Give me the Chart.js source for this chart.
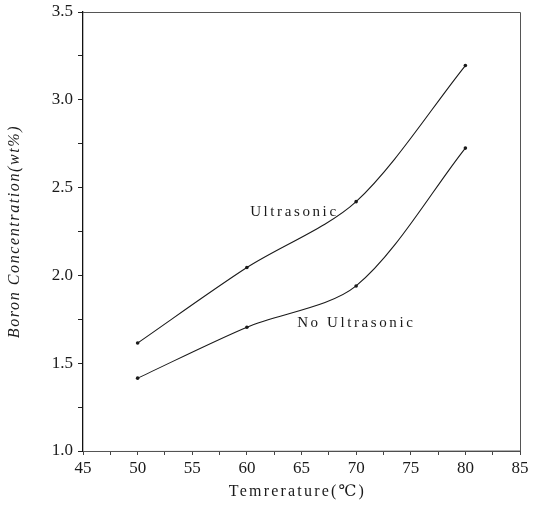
<!DOCTYPE html>
<html>
<head>
<meta charset="utf-8">
<script src="https://cdn.jsdelivr.net/npm/chart.js@4/dist/chart.umd.min.js"></script>
<style>
  html, body { margin: 0; padding: 0; background: #fff; }
  #boron { display: block; }
</style>
</head>
<body>
<canvas id="boron" width="535" height="517"></canvas>
<script>
// temperature (°C) vs boron concentration (wt%)
var temperatures = [50, 60, 70, 80];
var withUltrasonic = [1.615, 2.045, 2.42, 3.195];
var noUltrasonic = [1.415, 1.705, 1.94, 2.725];

var seriesLabels = ['Ultrasonic', 'No Ultrasonic'];
// where each curve name sits, in data units
var labelSpots = [{x: 60.3, y: 2.36}, {x: 64.6, y: 1.73}];

var X_MIN = 45, X_MAX = 85;
var Y_MIN = 1.0, Y_MAX = 3.5;

var SERIF = '"Liberation Serif", "DejaVu Serif", serif';
var INK = '#1a1a1a';

function toPoints(values) {
    return values.map(function (v, i) {
        return {x: temperatures[i], y: v};
    });
}

function makeDataset(values) {
    return {
        data: toPoints(values),
        borderColor: INK,
        backgroundColor: INK,
        borderWidth: 1.1,
        pointRadius: 1.8,
        pointBorderWidth: 0,
        tension: 0.3,
        fill: false
    };
}

// frame around the plot plus the curve names
var framePlugin = {
    id: 'frame',
    afterDraw: function (chart) {
        var ctx = chart.ctx;
        var a = chart.chartArea;
        ctx.save();
        ctx.strokeStyle = '#555';
        ctx.lineWidth = 1;
        ctx.beginPath();
        ctx.moveTo(a.left, a.top + 0.5);
        ctx.lineTo(a.right + 0.5, a.top + 0.5);
        ctx.lineTo(a.right + 0.5, a.bottom);
        ctx.lineTo(a.left, a.bottom + 0.5);
        ctx.stroke();

        var xs = chart.scales.x, ys = chart.scales.y;
        ctx.fillStyle = INK;
        ctx.font = '15px ' + SERIF;
        ctx.letterSpacing = '2.6px';
        ctx.textBaseline = 'middle';
        ctx.textAlign = 'left';
        seriesLabels.forEach(function (name, i) {
            ctx.fillText(name, xs.getPixelForValue(labelSpots[i].x), ys.getPixelForValue(labelSpots[i].y));
        });

        // axis titles with the same wide spacing
        ctx.font = '16px ' + SERIF;
        ctx.letterSpacing = '2.2px';
        ctx.textAlign = 'center';
        ctx.fillText('Temrerature(\u2103)', (a.left + a.right) / 2 - 4, 492);

        ctx.translate(15, (a.top + a.bottom) / 2);
        ctx.rotate(-Math.PI / 2);
        ctx.font = 'italic 16px ' + SERIF;
        ctx.letterSpacing = '1.6px';
        ctx.fillText('Boron Concentration(wt%)', 0, 0);
        ctx.restore();
    }
};

new Chart(document.getElementById('boron'), {
    type: 'line',
    data: {
        datasets: [makeDataset(withUltrasonic), makeDataset(noUltrasonic)]
    },
    options: {
        responsive: false,
        animation: false,
        layout: {padding: {left: 0, right: 15, top: 12, bottom: 0}},
        plugins: {
            legend: {display: false},
            tooltip: {enabled: false}
        },
        scales: {
            x: {
                type: 'linear',
                min: X_MIN,
                max: X_MAX,
                afterFit: function (scale) {
                    scale.height = 66;
                    scale.paddingLeft = 0;
                    scale.paddingRight = 0;
                },
                ticks: {
                    stepSize: 2.5,
                    autoSkip: false,
                    maxRotation: 0,
                    padding: 3,
                    color: INK,
                    font: {family: SERIF, size: 17},
                    callback: function (v) { return v % 5 === 0 ? v : ''; }
                },
                grid: {drawOnChartArea: false, drawTicks: true, tickLength: 4, color: '#444'},
                border: {color: '#444', width: 1}
            },
            y: {
                min: Y_MIN,
                max: Y_MAX,
                afterFit: function (scale) {
                    scale.width = 83;
                    scale.paddingTop = 0;
                    scale.paddingBottom = 0;
                },
                ticks: {
                    stepSize: 0.25,
                    autoSkip: false,
                    padding: 5,
                    color: INK,
                    font: {family: SERIF, size: 17},
                    callback: function (v) {
                        return Math.abs(v * 2 - Math.round(v * 2)) < 1e-6 ? v.toFixed(1) : '';
                    }
                },
                grid: {drawOnChartArea: false, drawTicks: true, tickLength: 5, color: '#222'},
                border: {color: '#111', width: 1.3}
            }
        }
    },
    plugins: [framePlugin]
});
</script>
</body>
</html>
